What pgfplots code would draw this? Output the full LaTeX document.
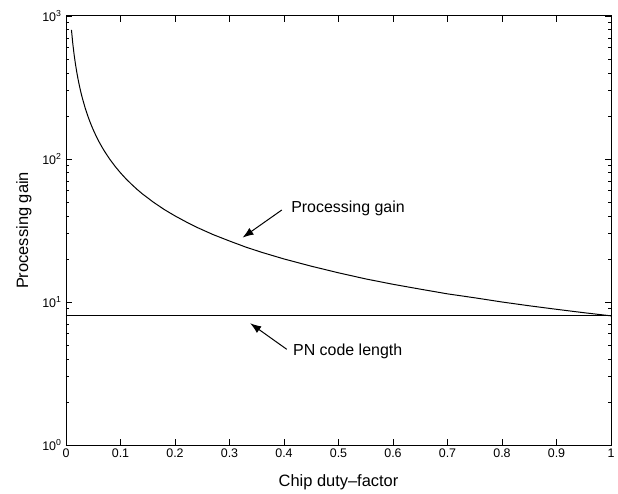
\documentclass[border=0pt]{standalone}
\usepackage{fontspec}
\setmainfont{Liberation Sans}
\usepackage{pgfplots}
\pgfplotsset{compat=1.18}
\usetikzlibrary{arrows.meta}
\begin{document}
\begin{tikzpicture}
\begin{axis}[
  scale only axis,
  width=545bp, height=429bp,
  xmin=0, xmax=1,
  ymode=log, ymin=1, ymax=1000,
  xtick={0,0.1,0.2,0.3,0.4,0.5,0.6,0.7,0.8,0.9,1},
  xticklabels={0,0.1,0.2,0.3,0.4,0.5,0.6,0.7,0.8,0.9,1},
  ytick={1,10,100,1000},
  yticklabels={10\textsuperscript{0},10\textsuperscript{1},10\textsuperscript{2},10\textsuperscript{3}},
  tick align=inside,
  xtick pos=both, ytick pos=both,
  major tick length=6bp, minor tick length=3.5bp,
  tick style={black, line width=0.8pt},
  axis line style={line width=1pt},
  tick label style={font=\fontsize{12.5}{14}\selectfont},
  yticklabel style={xshift=-1bp},
  label style={font=\fontsize{16.5}{19}\selectfont},
  xlabel={Chip duty--factor},
  ylabel={Processing gain},
  xlabel style={yshift=-10bp},
  ylabel style={yshift=4bp},
  clip=false,
]
\addplot[black, line width=1pt] coordinates {
(0.01,800) (0.0125,640) (0.015,533.3) (0.0175,457.1) (0.02,400)
(0.0225,355.6) (0.025,320) (0.0275,290.9) (0.03,266.7) (0.035,228.6)
(0.04,200) (0.045,177.8) (0.05,160) (0.055,145.5) (0.06,133.3)
(0.065,123.1) (0.07,114.3) (0.08,100) (0.09,88.9) (0.1,80)
(0.11,72.7) (0.12,66.7) (0.13,61.5) (0.14,57.1) (0.16,50)
(0.18,44.4) (0.2,40) (0.22,36.4) (0.24,33.3) (0.27,29.6)
(0.3,26.7) (0.33,24.2) (0.36,22.2) (0.4,20) (0.45,17.8)
(0.5,16) (0.55,14.5) (0.6,13.3) (0.65,12.3) (0.7,11.4)
(0.75,10.7) (0.8,10) (0.85,9.41) (0.9,8.89) (0.95,8.42) (1,8)
};
\addplot[black, line width=1pt] coordinates {(0,8) (1,8)};
\draw[-{Latex[length=11bp,width=8bp]}, line width=1pt] (axis cs:0.396,44.0) -- (axis cs:0.324,28.2);
\draw[-{Latex[length=11bp,width=8bp]}, line width=1pt] (axis cs:0.405,4.67) -- (axis cs:0.338,7.10);
\node[anchor=west, inner sep=0pt, font=\fontsize{16}{19}\selectfont] at (axis cs:0.413,45.4) {Processing gain};
\node[anchor=west, inner sep=0pt, font=\fontsize{16}{19}\selectfont] at (axis cs:0.4165,4.49) {PN code length};
\coordinate (bl) at (rel axis cs:0,0);
\coordinate (tr) at (rel axis cs:1,1);
\end{axis}
\path ([shift={(-66bp,-49bp)}]bl) rectangle ([shift={(7bp,16bp)}]tr);
\end{tikzpicture}
\end{document}
